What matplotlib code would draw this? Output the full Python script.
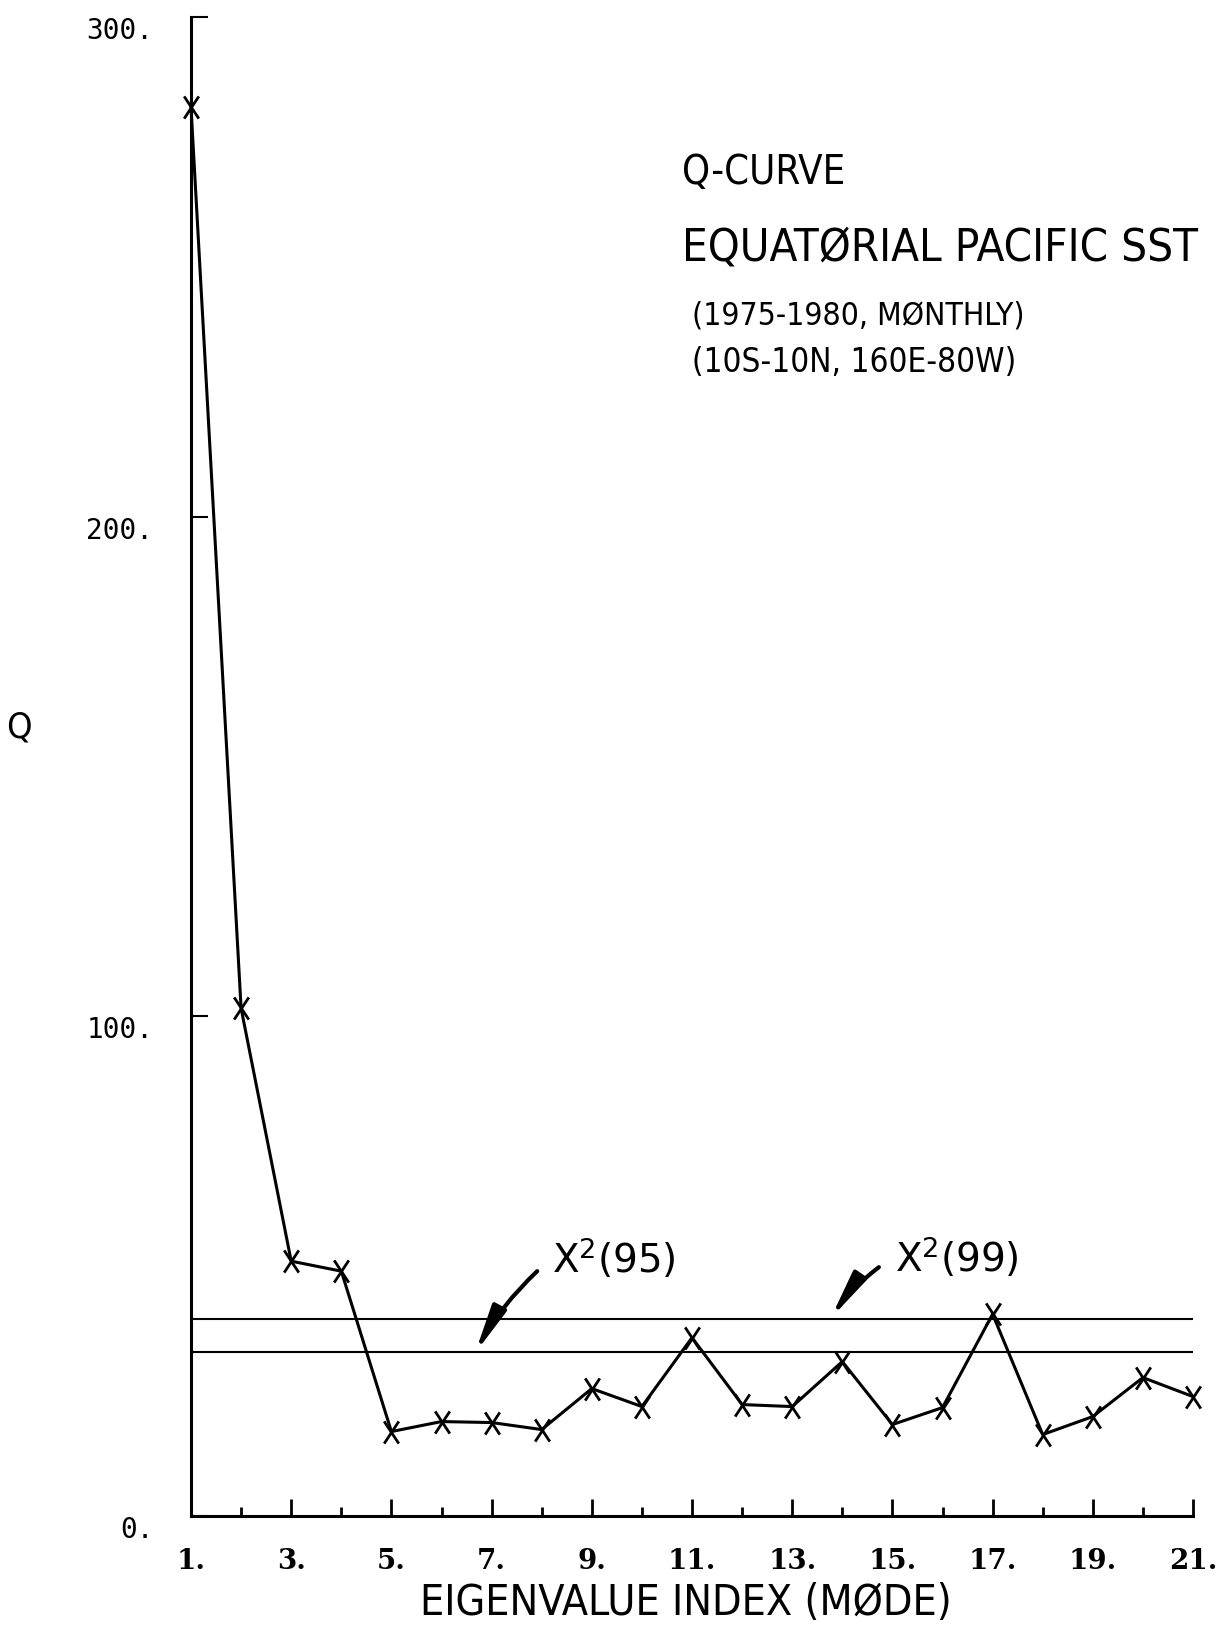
import matplotlib
matplotlib.use("Agg")
import matplotlib.pyplot as plt
from matplotlib import font_manager
from matplotlib.path import Path
from matplotlib.ticker import FixedLocator, NullFormatter

# Q statistic per eigenvalue index (mode 1..21)
modes = list(range(1, 22))
q_values = [282.0, 101.6, 51.0, 49.0, 16.9, 18.9, 18.7, 17.3, 25.5, 21.9,
            35.7, 22.3, 21.9, 30.9, 18.3, 21.7, 40.4, 16.3, 19.9, 27.7, 23.9]

# chi-square significance levels
chi2_levels = {"95": 32.9, "99": 39.4}

x_ticks = list(range(1, 22, 2))
x_minor = list(range(2, 21, 2))
x_ticklabels = [f"{v}." for v in x_ticks]
y_ticks = [0, 100, 200, 300]
y_ticklabels = ["0.", "100.", "200.", "300."]

W, H = 1221, 1625

# prefer a condensed face for the plotter lettering if one is installed
condensed = [f for f in font_manager.fontManager.ttflist
             if f.stretch in ("condensed", "semi-condensed", 600, 700, 750)
             or "Condensed" in f.name or "Narrow" in f.name]
narrow_kw = {"family": "DejaVu Sans"}
for f in condensed:
    if f.style == "normal" and f.weight in (400, "normal", "regular", "book"):
        narrow_kw = {"fname": f.fname}
        break


def narrow_props():
    if "fname" in narrow_kw:
        return font_manager.FontProperties(fname=narrow_kw["fname"])
    return font_manager.FontProperties(family="DejaVu Sans")


fig = plt.figure(figsize=(W / 100, H / 100), dpi=100)
fig.patch.set_facecolor("white")
renderer = fig.canvas.get_renderer()


def fit_width(txt, target_px):
    """Rescale a text's font size so its rendered width is target_px."""
    w = txt.get_window_extent(renderer).width
    txt.set_fontsize(txt.get_fontsize() * target_px / w)


# axes box in pixel terms: x=1 at 191px, x=21 at 1193px, y=0 at 1516px, y=300 at 17px
left, right, bottom, top = 191, 1193, 1516, 17
ax = fig.add_axes([left / W, 1 - bottom / H, (right - left) / W, (bottom - top) / H])
ax.set_xlim(1, 21)
ax.set_ylim(0, 300)

for side in ("top", "right"):
    ax.spines[side].set_visible(False)
for side in ("left", "bottom"):
    ax.spines[side].set_linewidth(2.2)
    ax.spines[side].set_color("black")

ax.xaxis.set_major_locator(FixedLocator(x_ticks))
ax.xaxis.set_minor_locator(FixedLocator(x_minor))
ax.xaxis.set_minor_formatter(NullFormatter())
ax.yaxis.set_major_locator(FixedLocator(y_ticks))
ax.tick_params(axis="x", which="major", direction="in", length=12, width=2, pad=23,
               labelsize=20, labelfontfamily="DejaVu Serif")
ax.tick_params(axis="x", which="minor", direction="in", length=6.5, width=2)
ax.tick_params(axis="y", which="major", direction="in", length=12, width=1.5, pad=27,
               labelsize=20, labelfontfamily="DejaVu Sans Mono")
ax.set_xticklabels(x_ticklabels, fontweight="bold")
ax.set_yticklabels(y_ticklabels)
for lab in ax.get_yticklabels():
    lab.set_verticalalignment("top")

# chi-square reference lines
for lvl in chi2_levels.values():
    ax.axhline(lvl, color="black", lw=1.5, zorder=2)

# plotter-style X marker (taller than wide)
x_marker = Path([(-0.33, -0.5), (0.33, 0.5), (-0.33, 0.5), (0.33, -0.5)],
                [Path.MOVETO, Path.LINETO, Path.MOVETO, Path.LINETO])
ax.plot(modes, q_values, color="black", lw=2.2, marker=x_marker, markersize=16,
        markeredgewidth=2.0, markerfacecolor="none", clip_on=False, zorder=3)

# labels and arrows for the significance lines
arrow_kw = dict(arrowstyle="-|>,head_length=2.0,head_width=0.32", color="black",
                lw=3, mutation_scale=14, connectionstyle="arc3,rad=0.08",
                shrinkA=0, shrinkB=0)
ax.text(8.2, 48.7, "X$^2$(95)", fontsize=28, ha="left", va="baseline")
ax.annotate("", xy=(6.67, chi2_levels["95"] - 0.3), xytext=(7.91, 49.0), arrowprops=arrow_kw)
ax.text(15.05, 48.9, "X$^2$(99)", fontsize=28, ha="left", va="baseline")
ax.annotate("", xy=(13.77, chi2_levels["99"] + 0.2), xytext=(14.73, 49.8), arrowprops=arrow_kw)

# title block, widths fitted to the lettering
title_lines = [
    ("Q-CURVE", 682, 184, 163, "baseline"),
    ("EQUATØRIAL PACIFIC SST", 682, 261, 515, "baseline"),
    ("(1975-1980, MØNTHLY)", 692, 316, 332, "center"),
    ("(10S-10N, 160E-80W)", 692, 362, 324, "center"),
]
for s, x0, y0, width, va in title_lines:
    t = fig.text(x0 / W, 1 - y0 / H, s, fontproperties=narrow_props(), fontsize=30,
                 ha="left", va=va)
    fit_width(t, width)

# axis titles
fig.text(19 / W, 1 - 727 / H, "Q", fontproperties=narrow_props(), fontsize=26,
         ha="center", va="center")
xl = fig.text(686 / W, 1 - 1603 / H, "EIGENVALUE INDEX (MØDE)",
              fontproperties=narrow_props(), fontsize=30, ha="center", va="center")
fit_width(xl, 531)

fig.savefig("out.png", dpi=100, facecolor="white")
